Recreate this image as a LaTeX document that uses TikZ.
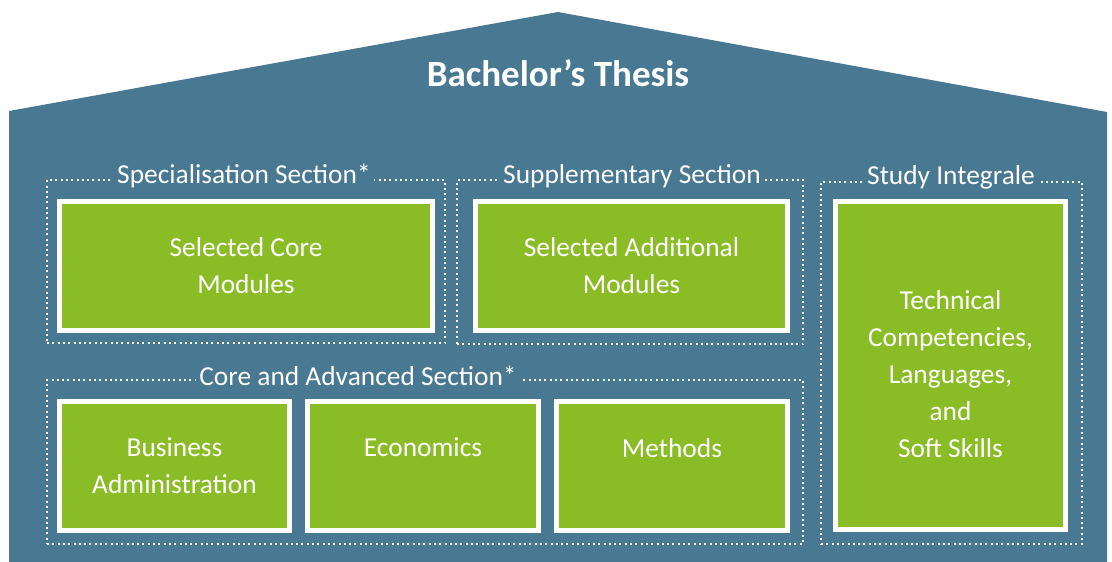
\documentclass[tikz,border=0pt]{standalone}
\usepackage{fontspec}
\setmainfont{Carlito}
\definecolor{housebg}{RGB}{73,121,146}
\definecolor{modgreen}{RGB}{138,188,38}

\begin{document}
\begin{tikzpicture}[x=1pt, y=-1pt,
		module/.style={draw=white, line width=5pt, fill=modgreen, text=white, align=center,
			font=\fontsize{27.4}{37}\selectfont, inner sep=0pt},
		frame/.style={draw=white, line width=2pt, dash pattern=on 2pt off 3.3pt, inner sep=0pt},
		section/.style={fill=housebg, text=white, font=\fontsize{27.4}{30}\selectfont, inner sep=3pt}]
	\useasboundingbox (0, 0) rectangle (1112, 562);
	\fill[housebg] (9, 562) -- (9, 111) -- (558, 12) -- (1107, 112) -- (1107, 562) -- cycle;
	\node[text=white, font=\bfseries\fontsize{37}{40}\selectfont] (thesis) at (558, 73) {Bachelor’s Thesis};

	% dotted sections
	\node[frame, minimum width=398pt, minimum height=163pt] (specframe) at (246, 261.5) {};
	\node[frame, minimum width=346pt, minimum height=164pt] (suppframe) at (630, 262) {};
	\node[frame, minimum width=261pt, minimum height=362pt] (studyframe) at (951.5, 363) {};
	\node[frame, minimum width=756pt, minimum height=164pt] (coreframe) at (425, 462) {};

	\node[section] (spec) at (244, 176) {Specialisation Section*};
	\node[section] (supp) at (632, 176) {Supplementary Section};
	\node[section] (study) at (951, 177) {Study Integrale};
	\node[section] (core) at (358, 376) {Core and Advanced Section*};

	% modules
	\node[module, minimum width=373pt, minimum height=129pt] (selcore) at (246, 266) {Selected Core\\Modules};
	\node[module, minimum width=312pt, minimum height=129pt] (seladd) at (631.5, 266) {Selected Additional\\Modules};
	\node[module, minimum width=230pt, minimum height=328pt] (skills) at (950.5, 365.5) {};
	\node[text=white, align=center, font=\fontsize{27.4}{37}\selectfont] (skillstext) at (950.5, 374)
		{Technical\\Competencies,\\Languages,\\and\\Soft Skills};
	\node[module, minimum width=230pt, minimum height=129pt] (business) at (174.5, 466) {Business\\Administration};
	\node[module, minimum width=231pt, minimum height=129pt] (economics) at (423, 466) {Economics\\~};
	\node[module, minimum width=231pt, minimum height=129pt] (methods) at (672, 466) {Methods\\~};
\end{tikzpicture}
\end{document}
